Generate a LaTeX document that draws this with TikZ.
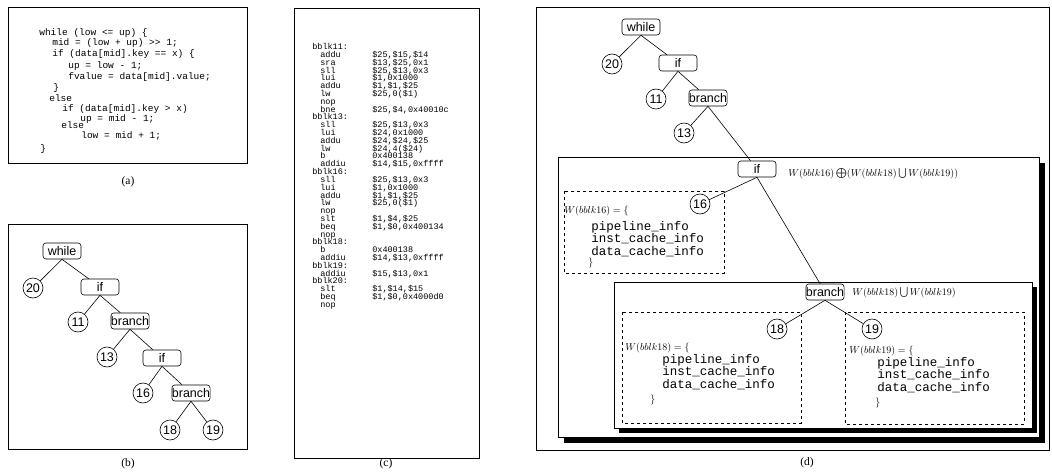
\documentclass[tikz,border=0pt]{standalone}
\usepackage{amsmath}
\usepackage{amssymb}
\usepackage{fontspec}
\setmainfont{Liberation Serif}
\setmonofont{Liberation Mono}
\newfontfamily\treefont{Liberation Sans}
\usetikzlibrary{positioning}

\begin{document}
\begin{tikzpicture}[x=1pt, y=-1pt, on grid, line width=0.6pt,
    stmt/.style={draw, rounded corners=3pt, minimum width=38pt, minimum height=16pt, inner sep=0pt, font=\treefont\fontsize{12.5}{12.5}\selectfont},
    blk/.style={draw, circle, minimum size=20pt, inner sep=0pt, font=\treefont\fontsize{12.5}{12.5}\selectfont},
    panel/.style={draw, line width=0.8pt},
    region/.style={draw, fill=white, line width=0.8pt},
    wbox/.style={draw, dashed, line width=0.7pt},
    src/.style={anchor=base west, inner sep=0pt, font=\ttfamily\fontsize{9.5}{9.5}\selectfont},
    asm/.style={anchor=base west, inner sep=0pt, font=\ttfamily\fontsize{8.5}{8.5}\selectfont},
    info/.style={anchor=base west, inner sep=0pt, font=\ttfamily\fontsize{12.5}{12.5}\selectfont},
    wlab/.style={anchor=base west, inner sep=0pt, font=\fontsize{10}{10}\selectfont},
    subcap/.style={font=\fontsize{11.5}{11.5}\selectfont}]
    \useasboundingbox (0,0) rectangle (1052,476);

    % (a) source code
    \draw[panel] (8,7) rectangle (247,163);
    \foreach \x/\y/\t [count=\i] in {39/33/{while (low <= up) \{}, 52/43/{mid = (low + up) >> 1;},
        52/54/{if (data[mid].key == x) \{}, 68/66/{up = low - 1;}, 68/77/{fvalue = data[mid].value;},
        53/88/{\}}, 49/99/{else}, 62/109/{if (data[mid].key > x)}, 80/119/{up = mid - 1;},
        61/126/{else}, 81/136/{low = mid + 1;}, 40/148/{\}}}
        \node[src] (src\i) at (\x,\y+3) {\t};
    \node[subcap] (capa) at (128,182) {(a)};

    % (b) syntax tree
    \draw[panel] (8,224) rectangle (247,449);
    \node[stmt] (bw) at (62,251) {while};
    \node[blk] (b20) [below left=37pt and 29pt of bw] {20};
    \node[stmt] (bif1) [below right=36pt and 38pt of bw] {if};
    \node[blk] (b11) [below left=35pt and 22pt of bif1] {11};
    \node[stmt] (bbr1) [below right=34pt and 30pt of bif1] {branch};
    \node[blk] (b13) [below left=36pt and 23pt of bbr1] {13};
    \node[stmt] (bif2) [below right=37pt and 32pt of bbr1] {if};
    \node[blk] (b16) [below left=35pt and 19pt of bif2] {16};
    \node[stmt] (bbr2) [below right=35pt and 29pt of bif2] {branch};
    \node[blk] (b18) [below left=37pt and 21pt of bbr2] {18};
    \node[blk] (b19) [below right=37pt and 22pt of bbr2] {19};
    \draw (bw.south) -- (b20) (bw.south) -- (bif1)
          (bif1.south) -- (b11) (bif1.south) -- (bbr1)
          (bbr1.south) -- (b13) (bbr1.south) -- (bif2)
          (bif2.south) -- (b16) (bif2.south) -- (bbr2)
          (bbr2.south) -- (b18) (bbr2.south) -- (b19);
    \node[subcap] (capb) at (128,464) {(b)};

    % (c) assembly
    \draw[panel] (294,8) rectangle (479,458);
    \foreach \lb/\mn/\op [count=\i] in {bblk11:/{}/{}, {}/addu/{\$25,\$15,\$14}, {}/sra/{\$13,\$25,0x1},
        {}/sll/{\$25,\$13,0x3}, {}/lui/{\$1,0x1000}, {}/addu/{\$1,\$1,\$25}, {}/lw/{\$25,0(\$1)},
        {}/nop/{}, {}/bne/{\$25,\$4,0x40010c},
        bblk13:/{}/{}, {}/sll/{\$25,\$13,0x3}, {}/lui/{\$24,0x1000}, {}/addu/{\$24,\$24,\$25},
        {}/lw/{\$24,4(\$24)}, {}/b/{0x400138}, {}/addiu/{\$14,\$15,0xffff},
        bblk16:/{}/{}, {}/sll/{\$25,\$13,0x3}, {}/lui/{\$1,0x1000}, {}/addu/{\$1,\$1,\$25},
        {}/lw/{\$25,0(\$1)}, {}/nop/{}, {}/slt/{\$1,\$4,\$25}, {}/beq/{\$1,\$0,0x400134}, {}/nop/{},
        bblk18:/{}/{}, {}/b/{0x400138}, {}/addiu/{\$14,\$13,0xffff},
        bblk19:/{}/{}, {}/addiu/{\$15,\$13,0x1},
        bblk20:/{}/{}, {}/slt/{\$1,\$14,\$15}, {}/beq/{\$1,\$0,0x4000d0}, {}/nop/{}}
    {
        \node[asm] (lb\i) at (312,42+7.8*\i) {\lb};
        \node[asm] (mn\i) at (320,42+7.8*\i) {\mn};
        \node[asm] (op\i) at (372,42+7.8*\i) {\op};
    }
    \node[subcap] (capc) at (386,464) {(c)};

    % (d) tree with WCET regions
    \draw[panel] (536,7) rectangle (1049,450);
    \fill (564,163) rectangle (1045,443);
    \draw[region] (558,157) rectangle (1039,437);
    \fill (619,287) rectangle (1037,433);
    \draw[region] (614,282) rectangle (1032,428);
    \draw[wbox] (564,191) rectangle (724,273);
    \draw[wbox] (622,312) rectangle (801,423);
    \draw[wbox] (845,312) rectangle (1024,424);

    \node[stmt] (dw) at (641,27) {while};
    \node[blk] (d20) [below left=37pt and 29pt of dw] {20};
    \node[stmt] (dif1) [below right=36pt and 37pt of dw] {if};
    \node[blk] (d11) [below left=36pt and 22pt of dif1] {11};
    \node[stmt] (dbr1) [below right=35pt and 30pt of dif1] {branch};
    \node[blk] (d13) [below left=35pt and 24pt of dbr1] {13};
    \node[stmt] (dif2) at (757,169) {if};
    \node[blk] (d16) at (700,204) {16};
    \node[stmt] (dbr2) at (825,292) {branch};
    \node[blk] (d18) at (777,329) {18};
    \node[blk] (d19) at (872,329) {19};

    \node[wlab] (wif) at (788,176) {$W(bblk16)\bigoplus(W(bblk18)\bigcup W(bblk19))$};
    \node[wlab] (wbr) at (852,295) {$W(bblk18)\bigcup W(bblk19)$};

    \node[wlab] (w16) at (564,213) {$W(bblk16) =\{$};
    \foreach \t [count=\i] in {pipeline\_info, inst\_cache\_info, data\_cache\_info}
        \node[info] (i16-\i) at (591,217.5+12.5*\i) {\t};
    \node[wlab] (e16) at (588,265) {$\}$};

    \node[wlab] (w18) at (625,350) {$W(bblk18) =\{$};
    \foreach \t [count=\i] in {pipeline\_info, inst\_cache\_info, data\_cache\_info}
        \node[info] (i18-\i) at (662,350.5+12.5*\i) {\t};
    \node[wlab] (e18) at (650,402) {$\}$};

    \node[wlab] (w19) at (849,353) {$W(bblk19) =\{$};
    \foreach \t [count=\i] in {pipeline\_info, inst\_cache\_info, data\_cache\_info}
        \node[info] (i19-\i) at (877,353.5+12.5*\i) {\t};
    \node[wlab] (e19) at (875,405) {$\}$};

    \draw (dw.south) -- (d20) (dw.south) -- (dif1)
          (dif1.south) -- (d11) (dif1.south) -- (dbr1)
          (dbr1.south) -- (d13) (dbr1.south) -- (dif2)
          (dif2.south) -- (d16) (dif2.south) -- (dbr2)
          (dbr2.south) -- (d18) (dbr2.south) -- (d19);
    \node[subcap] (capd) at (807,463) {(d)};
\end{tikzpicture}
\end{document}
